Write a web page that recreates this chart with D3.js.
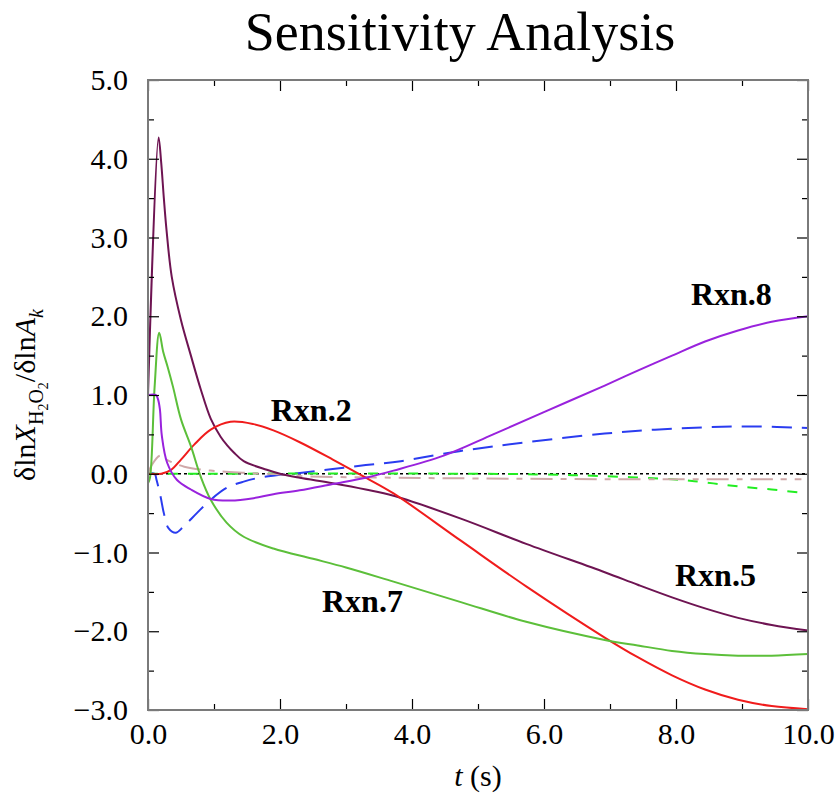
<!DOCTYPE html>
<html>
<head>
<meta charset="utf-8">
<script src="https://cdn.jsdelivr.net/npm/d3@7"></script>
<style>
  body { margin: 0; background: #fff; }
  svg text { font-family: "Liberation Serif", "Times New Roman", serif; }
</style>
</head>
<body>
<svg id="chart"></svg>
<script>
// time points (s) and sensitivity values
let rxn5T = [0, 0.16, 0.2, 0.24, 0.28, 0.36, 0.5, 0.65, 0.8, 0.95, 1.1, 1.2, 1.3, 1.45, 1.8, 2.0, 2.3, 2.8, 3.3, 3.72, 4.74, 5.73, 6.92, 7.42, 7.94, 8.44, 8.94, 9.45, 10]
let rxn5V = [1.0, 4.27, 3.95, 3.5, 3.1, 2.5, 1.95, 1.5, 1.07, 0.7, 0.47, 0.36, 0.27, 0.16, 0.05, 0.0, -0.05, -0.12, -0.2, -0.28, -0.57, -0.89, -1.25, -1.41, -1.57, -1.71, -1.83, -1.92, -1.99]

let rxn2T = [0, 0.2, 0.35, 0.5, 0.7, 0.95, 1.25, 1.6, 1.9, 2.3, 2.8, 3.3, 3.72, 4.74, 5.73, 6.92, 7.42, 7.94, 8.44, 8.94, 9.45, 10]
let rxn2V = [0, 0.0, 0.05, 0.18, 0.37, 0.56, 0.66, 0.63, 0.55, 0.4, 0.18, -0.05, -0.25, -0.85, -1.43, -2.08, -2.33, -2.56, -2.74, -2.87, -2.95, -2.99]

let rxn7T = [0, 0.03, 0.1, 0.17, 0.23, 0.3, 0.38, 0.5, 0.65, 0.8, 0.95, 1.19, 1.45, 1.9, 2.5, 3.0, 3.72, 4.74, 5.73, 6.92, 7.42, 7.94, 8.44, 8.94, 9.45, 10]
let rxn7V = [-0.12, -0.05, 1.1, 1.79, 1.55, 1.35, 1.1, 0.69, 0.35, -0.04, -0.33, -0.62, -0.8, -0.95, -1.08, -1.19, -1.37, -1.63, -1.88, -2.11, -2.18, -2.25, -2.29, -2.31, -2.31, -2.29]

let rxn8T = [0, 0.12, 0.15, 0.18, 0.21, 0.29, 0.44, 0.65, 0.95, 1.25, 1.6, 1.9, 2.3, 2.8, 3.3, 3.72, 4.48, 5.23, 5.99, 6.92, 7.42, 7.94, 8.44, 8.94, 9.45, 10]
let rxn8V = [1.0, 1.0, 0.95, 0.82, 0.48, 0.14, -0.08, -0.2, -0.32, -0.34, -0.31, -0.26, -0.21, -0.13, -0.05, 0.04, 0.23, 0.5, 0.78, 1.12, 1.31, 1.5, 1.68, 1.82, 1.93, 2.0]

// dashed curves (no label)
let blueT = [0, 0.1, 0.13, 0.19, 0.24, 0.31, 0.42, 0.54, 0.74, 0.95, 1.19, 1.45, 1.75, 2.3, 2.8, 3.3, 3.83, 4.74, 5.73, 6.92, 7.68, 8.44, 9.2, 10]
let blueV = [0, 0, -0.08, -0.29, -0.5, -0.69, -0.75, -0.67, -0.5, -0.33, -0.18, -0.1, -0.04, 0.01, 0.06, 0.11, 0.16, 0.29, 0.4, 0.51, 0.56, 0.59, 0.6, 0.58]

let limeT = [0, 5, 6, 6.9, 7.94, 8.44, 8.94, 9.45, 10]
let limeV = [0, 0, -0.01, -0.03, -0.07, -0.11, -0.16, -0.2, -0.25]

let tanT = [0, 0.05, 0.18, 0.3, 0.55, 0.95, 1.5, 2.0, 2.3, 3.7, 5, 7, 9, 9.9]
let tanV = [0, 0.1, 0.23, 0.17, 0.09, 0.04, 0.01, -0.01, -0.03, -0.05, -0.06, -0.07, -0.07, -0.07]

let xMajor = [0, 2, 4, 6, 8, 10]
let xMinor = [1, 3, 5, 7, 9]
let yMajor = [-3, -2, -1, 0, 1, 2, 3, 4, 5]
let yMinor = [-2.5, -1.5, -0.5, 0.5, 1.5, 2.5, 3.5, 4.5]

let series = [
  { t: rxn5T, v: rxn5V, color: "#6e1452", dash: null },
  { t: rxn2T, v: rxn2V, color: "#f01c1c", dash: null },
  { t: rxn7T, v: rxn7V, color: "#5cbf3a", dash: null },
  { t: rxn8T, v: rxn8V, color: "#9922dd", dash: null },
  { t: blueT, v: blueV, color: "#2a3cf0", dash: "20,10" },
  { t: limeT, v: limeV, color: "#22ee22", dash: "10,10" },
  { t: tanT, v: tanV, color: "#cfa9a9", dash: "22,8,6,8" }
]

let labels = [
  { text: "Rxn.2", t: 1.86, v: 0.67 },
  { text: "Rxn.8", t: 8.226, v: 2.14 },
  { text: "Rxn.5", t: 7.985, v: -1.42 },
  { text: "Rxn.7", t: 2.636, v: -1.75 }
]

let width = 838, height = 801
let margin = { top: 80, left: 148, right: 30, bottom: 91 }
let bodyWidth = width - margin.left - margin.right
let bodyHeight = height - margin.top - margin.bottom

let svg = d3.select("#chart").attr("width", width).attr("height", height)

let xScale = d3.scaleLinear().domain([0, 10]).range([0, bodyWidth])
let yScale = d3.scaleLinear().domain([-3, 5]).range([bodyHeight, 0])

let body = svg.append("g")
  .attr("transform", `translate(${margin.left},${margin.top})`)

// zero reference line
body.append("line")
  .attr("x1", 0).attr("x2", bodyWidth)
  .attr("y1", yScale(0)).attr("y2", yScale(0))
  .attr("stroke", "#000").attr("stroke-width", 1.3)
  .attr("stroke-dasharray", "3,3")

let line = d3.line()
  .x(d => xScale(d[0]))
  .y(d => yScale(d[1]))
  .curve(d3.curveCatmullRom.alpha(0.5))

// dashed ones first, solid curves on top
let order = [4, 5, 6, 0, 1, 2, 3]
order.forEach(i => {
  let s = series[i]
  body.append("path")
    .datum(d3.zip(s.t, s.v))
    .attr("d", line)
    .attr("fill", "none")
    .attr("stroke", s.color)
    .attr("stroke-width", 2)
    .attr("stroke-dasharray", s.dash)
})

// axes: ticks pointing inward on all four sides
let fmt = d3.format(".1f")
function styleAxis(g) {
  g.select(".domain").remove()
  g.selectAll("line").attr("stroke", "#000").attr("stroke-width", 1.2)
  g.selectAll("text").attr("font-size", 30).attr("font-family", "Liberation Serif, serif").attr("fill", "#000")
}

body.append("g").attr("transform", `translate(0,${bodyHeight})`)
  .call(d3.axisBottom(xScale).tickValues(xMajor).tickSize(-11).tickPadding(13).tickFormat(fmt)).call(styleAxis)
body.append("g").attr("transform", `translate(0,${bodyHeight})`)
  .call(d3.axisBottom(xScale).tickValues(xMinor).tickSize(-6).tickFormat("")).call(styleAxis)
body.append("g")
  .call(d3.axisTop(xScale).tickValues(xMajor).tickSize(-11).tickFormat("")).call(styleAxis)
body.append("g")
  .call(d3.axisTop(xScale).tickValues(xMinor).tickSize(-6).tickFormat("")).call(styleAxis)

body.append("g")
  .call(d3.axisLeft(yScale).tickValues(yMajor).tickSize(-11).tickPadding(20).tickFormat(fmt)).call(styleAxis)
body.append("g")
  .call(d3.axisLeft(yScale).tickValues(yMinor).tickSize(-6).tickFormat("")).call(styleAxis)
body.append("g").attr("transform", `translate(${bodyWidth},0)`)
  .call(d3.axisRight(yScale).tickValues(yMajor).tickSize(-11).tickFormat("")).call(styleAxis)
body.append("g").attr("transform", `translate(${bodyWidth},0)`)
  .call(d3.axisRight(yScale).tickValues(yMinor).tickSize(-6).tickFormat("")).call(styleAxis)

// frame
body.append("rect")
  .attr("width", bodyWidth).attr("height", bodyHeight)
  .attr("fill", "none").attr("stroke", "#7a7a7a").attr("stroke-width", 2)

// curve labels
body.selectAll(".rxn")
  .data(labels)
  .enter()
  .append("text")
  .attr("class", "rxn")
  .attr("x", d => xScale(d.t))
  .attr("y", d => yScale(d.v))
  .attr("font-size", 32)
  .attr("font-weight", "bold")
  .text(d => d.text)

// title
svg.append("text")
  .attr("x", 460).attr("y", 50)
  .attr("text-anchor", "middle")
  .attr("font-size", 54)
  .text("Sensitivity Analysis")

// x axis title
let xt = svg.append("text")
  .attr("x", margin.left + bodyWidth / 2).attr("y", 786)
  .attr("text-anchor", "middle")
  .attr("font-size", 30)
xt.append("tspan").attr("font-style", "italic").text("t")
xt.append("tspan").text(" (s)")

// y axis title: δlnX_{H2O2}/δlnA_k
let yt = svg.append("text")
  .attr("transform", `translate(35,${margin.top + bodyHeight / 2}) rotate(-90)`)
  .attr("text-anchor", "middle")
  .attr("font-size", 30)
yt.append("tspan").text("δln")
yt.append("tspan").attr("font-style", "italic").text("X")
yt.append("tspan").attr("font-size", 20).attr("dy", 8).text("H")
yt.append("tspan").attr("font-size", 14).attr("dy", 5).text("2")
yt.append("tspan").attr("font-size", 20).attr("dy", -5).text("O")
yt.append("tspan").attr("font-size", 14).attr("dy", 5).text("2")
yt.append("tspan").attr("dy", -13).text("/δln")
yt.append("tspan").attr("font-style", "italic").text("A")
yt.append("tspan").attr("font-style", "italic").attr("font-size", 20).attr("dy", 8).text("k")
</script>
</body>
</html>
